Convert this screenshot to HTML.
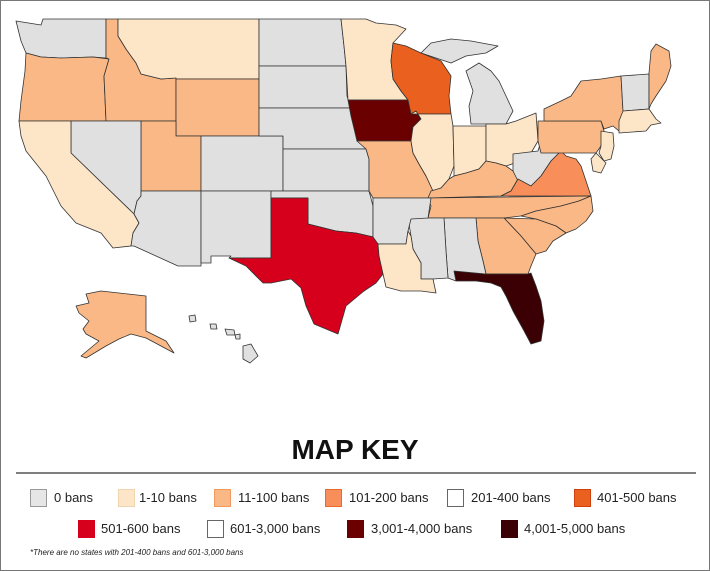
<!DOCTYPE html>
<html><head><meta charset="utf-8"><style>
body{margin:0;background:#fff}
#w{position:relative;width:708px;height:569px;border:1px solid #777;overflow:hidden;font-family:"Liberation Sans",sans-serif;background:#fff}
svg{position:absolute;left:0;top:0}
.t{position:absolute;font-size:13px;color:#222;white-space:nowrap}
.s{position:absolute;width:17px;height:18px;border:1px solid #999;box-sizing:border-box}
</style></head><body><div id="w">
<svg width="708" height="569" viewBox="0 0 708 569">
<g stroke="#333" stroke-width="0.8" stroke-linejoin="round">
<polygon fill="#e0e0e0" points="15,20 40,24 42,18 105,18 105,57 92,56 60,57 40,56 25,52 20,40"/>
<polygon fill="#f9b886" points="25,52 40,56 60,57 92,56 108,58 103,75 105,120 18,120 20,100 24,70"/>
<polygon fill="#f9b886" points="105,18 117,18 117,35 125,48 135,62 140,73 160,78 175,77 175,120 105,120 103,75 108,58 105,57"/>
<polygon fill="#fde5c8" points="117,18 258,18 258,78 175,78 175,77 160,78 140,73 135,62 125,48 117,35"/>
<polygon fill="#f9b886" points="175,78 258,78 258,135 175,135"/>
<polygon fill="#f9b886" points="140,120 175,120 175,135 200,135 200,190 140,190"/>
<polygon fill="#e0e0e0" points="70,120 140,120 140,195 136,200 133,213 70,152"/>
<polygon fill="#fde5c8" points="18,120 70,120 70,152 133,213 138,222 132,232 130,245 112,247 100,232 75,222 60,205 45,175 25,150 20,135"/>
<polygon fill="#e0e0e0" points="140,190 200,190 200,265 177,265 133,245 130,245 132,232 138,222 133,213 136,200 140,195"/>
<polygon fill="#e0e0e0" points="200,135 282,135 282,190 200,190"/>
<polygon fill="#e0e0e0" points="200,190 270,190 270,257 228,257 230,255 210,255 210,262 200,262"/>
<polygon fill="#e0e0e0" points="258,18 340,18 343,45 345,65 258,65"/>
<polygon fill="#e0e0e0" points="258,65 345,65 346,95 350,107 258,107"/>
<polygon fill="#e0e0e0" points="258,107 350,107 356,125 360,140 365,148 282,148 282,135 258,135"/>
<polygon fill="#e0e0e0" points="282,148 365,148 368,158 368,190 282,190"/>
<polygon fill="#e0e0e0" points="270,190 368,190 372,205 372,236 355,232 335,230 307,223 307,197 270,197"/>
<polygon fill="#d6001c" points="270,197 307,197 307,223 335,230 355,232 377,237 378,255 382,273 375,282 363,290 345,305 337,333 325,328 313,323 305,305 300,287 290,278 270,282 262,282 245,265 228,257 270,257"/>
<polygon fill="#fde5c8" points="340,18 365,18 375,22 395,24 405,28 392,42 390,60 392,78 400,90 407,99 347,99 345,65 343,45"/>
<polygon fill="#6a0000" points="347,99 407,99 415,110 420,118 412,126 410,140 356,140 350,115"/>
<polygon fill="#e9601f" points="392,42 405,45 420,52 440,60 450,75 448,95 450,113 410,113 407,99 400,90 392,78 390,60"/>
<polygon fill="#e0e0e0" points="420,52 430,42 450,38 470,40 497,45 485,52 465,55 450,62"/>
<polygon fill="#e0e0e0" points="465,70 478,62 490,70 498,80 505,95 512,110 505,123 470,123 468,105 472,90"/>
<polygon fill="#f9b886" points="356,140 410,140 412,152 418,163 425,175 432,190 430,197 372,197 368,190 368,158 365,148"/>
<polygon fill="#fde5c8" points="410,113 450,113 452,125 453,165 448,178 440,187 432,190 425,175 418,163 412,152 410,140 412,126 420,118 415,110"/>
<polygon fill="#fde5c8" points="452,125 485,125 485,160 478,168 465,172 453,175 453,165"/>
<polygon fill="#fde5c8" points="485,123 505,123 515,120 535,112 537,140 530,152 520,160 505,165 495,162 485,160"/>
<polygon fill="#f9b886" points="430,190 440,187 448,178 453,175 465,172 478,168 485,160 495,162 505,165 512,170 517,178 510,190 500,195 427,197"/>
<polygon fill="#e0e0e0" points="512,153 537,150 540,140 545,145 560,150 550,160 540,175 530,185 517,180 512,170"/>
<polygon fill="#f88f5b" points="517,178 530,185 540,175 550,160 560,150 565,155 575,158 580,165 585,180 590,195 500,195 510,190"/>
<polygon fill="#f9b886" points="427,197 590,195 578,200 560,205 535,210 520,215 503,217 427,217 430,205"/>
<polygon fill="#f9b886" points="520,215 535,210 560,205 578,200 590,195 592,210 585,220 575,228 565,232 555,225 535,218"/>
<polygon fill="#f9b886" points="503,217 535,218 555,225 565,232 552,240 545,250 535,253 520,235"/>
<polygon fill="#f9b886" points="475,217 503,217 520,235 535,253 530,265 527,273 485,273 482,260 477,240"/>
<polygon fill="#e0e0e0" points="443,217 475,217 477,240 482,260 485,273 455,273 455,280 447,277 445,250"/>
<polygon fill="#e0e0e0" points="407,217 443,217 445,250 447,277 432,278 420,278 420,262 412,248 410,235"/>
<polygon fill="#e0e0e0" points="372,197 430,197 427,217 410,218 407,230 405,243 377,243 372,236"/>
<polygon fill="#fde5c8" points="377,243 405,243 407,230 410,235 412,248 420,262 420,278 432,278 435,292 420,290 400,290 385,286 382,273 378,255"/>
<polygon fill="#3a0004" points="453,270 485,273 527,273 530,272 535,285 540,300 543,320 540,340 530,343 522,328 512,310 505,295 500,286 490,282 475,280 455,280"/>
<polygon fill="#f9b886" points="537,120 600,120 603,130 600,145 595,152 540,152 537,140"/>
<polygon fill="#f9b886" points="543,108 560,100 570,95 580,80 600,78 620,75 622,110 618,130 612,125 603,128 600,120 543,120"/>
<polygon fill="#fde5c8" points="600,130 612,132 613,145 610,158 603,160 598,152 600,145"/>
<polygon fill="#fde5c8" points="595,152 605,162 600,172 592,170 590,158"/>
<polygon fill="#e0e0e0" points="620,75 648,73 648,108 622,110"/>
<polygon fill="#f9b886" points="648,72 650,50 655,43 668,50 670,65 665,80 655,95 650,103 648,108"/>
<polygon fill="#fde5c8" points="622,110 648,108 655,118 660,122 650,124 645,130 618,132 618,120"/>
<polygon fill="#f9b886" points="85,293 100,290 145,295 145,330 155,335 165,340 173,352 160,345 145,337 130,333 118,338 105,345 85,357 80,355 98,340 85,333 82,328 88,320 78,312 75,305 88,302"/>
<polygon fill="#e0e0e0" points="188,315 194,314 195,320 189,321"/>
<polygon fill="#e0e0e0" points="209,323 215,323 216,328 210,328"/>
<polygon fill="#e0e0e0" points="224,328 233,329 234,334 226,334"/>
<polygon fill="#e0e0e0" points="234,334 239,333 239,338 235,338"/>
<polygon fill="#e0e0e0" points="242,345 250,343 257,355 249,362 242,358"/>
</g>
<text x="354" y="458" text-anchor="middle" font-family="Liberation Sans,sans-serif" font-weight="bold" font-size="28" fill="#111">MAP KEY</text>
<line x1="15" y1="472" x2="695" y2="472" stroke="#333" stroke-width="1.2"/>
</svg>
<div class="s" style="left:29px;top:488px;background:#e6e6e6"></div><div class="t" style="left:53px;top:489px">0 bans</div>
<div class="s" style="left:117px;top:488px;background:#fde5c8;border-color:#f0d4b0"></div><div class="t" style="left:138px;top:489px">1-10 bans</div>
<div class="s" style="left:213px;top:488px;background:#f9b886;border-color:#f09a60"></div><div class="t" style="left:237px;top:489px">11-100 bans</div>
<div class="s" style="left:324px;top:488px;background:#f88f5b;border-color:#e86a30"></div><div class="t" style="left:348px;top:489px">101-200 bans</div>
<div class="s" style="left:446px;top:488px;background:#fff;border-color:#666"></div><div class="t" style="left:470px;top:489px">201-400 bans</div>
<div class="s" style="left:573px;top:488px;background:#e9601f;border-color:#d04010"></div><div class="t" style="left:596px;top:489px">401-500 bans</div>
<div class="s" style="left:77px;top:519px;background:#d6001c;border-color:#d6001c"></div><div class="t" style="left:100px;top:520px">501-600 bans</div>
<div class="s" style="left:206px;top:519px;background:#fff;border-color:#666"></div><div class="t" style="left:229px;top:520px">601-3,000 bans</div>
<div class="s" style="left:346px;top:519px;background:#6a0000;border-color:#6a0000"></div><div class="t" style="left:370px;top:520px">3,001-4,000 bans</div>
<div class="s" style="left:500px;top:519px;background:#3a0004;border-color:#3a0004"></div><div class="t" style="left:523px;top:520px">4,001-5,000 bans</div>
<div class="t" style="left:29px;top:547px;font-size:8px;font-style:italic">*There are no states with 201-400 bans and 601-3,000 bans</div>
</div></body></html>
